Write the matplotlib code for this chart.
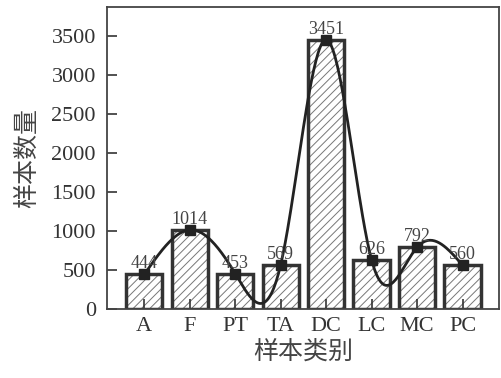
import numpy as np
import matplotlib
matplotlib.use("Agg")
import matplotlib.pyplot as plt

categories = ["A", "F", "PT", "TA", "DC", "LC", "MC", "PC"]
counts = [444, 1014, 453, 569, 3451, 626, 792, 560]


def natural_spline(y, n_per=40):
    # natural cubic spline on unit-spaced knots, used only to draw the smooth line
    y = np.asarray(y, dtype=float)
    n = len(y)
    A = np.zeros((n, n))
    b = np.zeros(n)
    A[0, 0] = A[-1, -1] = 1
    for i in range(1, n - 1):
        A[i, i - 1], A[i, i], A[i, i + 1] = 1, 4, 1
        b[i] = 6 * (y[i + 1] - 2 * y[i] + y[i - 1])
    M = np.linalg.solve(A, b)
    xs, ys = [], []
    for i in range(n - 1):
        t = np.linspace(0, 1, n_per, endpoint=(i == n - 2))
        s = (M[i] * (1 - t) ** 3 / 6 + M[i + 1] * t ** 3 / 6
             + (y[i] - M[i] / 6) * (1 - t) + (y[i + 1] - M[i + 1] / 6) * t)
        xs.append(i + t)
        ys.append(s)
    return np.concatenate(xs), np.concatenate(ys)


plt.rcParams['hatch.linewidth'] = 0.7
serif = "Liberation Serif"
cjk = ["Noto Sans CJK SC", "DejaVu Sans"]

fig = plt.figure(figsize=(5.01, 3.78), dpi=100)
ax = fig.add_axes([0.2136, 0.1825, 0.7824, 0.799])

x = np.arange(len(categories))
ax.bar(x, counts, width=0.8, color="white", edgecolor="#777777", hatch="////", linewidth=0)
ax.bar(x, counts, width=0.8, fill=False, edgecolor="#333333", linewidth=2.5)

sx, sy = natural_spline(counts)
ax.plot(sx, sy, color="#222222", linewidth=2)
ax.plot(x, counts, linestyle="none", marker="s", markersize=7, color="#222222")

for xi, c in zip(x, counts):
    ax.text(xi, c + 25, str(c), ha="center", va="bottom", fontsize=13,
            family=serif, color="#444444")

ax.set_xlim(-0.82, 7.8)
ax.set_ylim(0, 3870)
ax.set_yticks(range(0, 3501, 500))
ax.set_xticks(x)
ax.set_xticklabels(categories)
for lab in ax.get_xticklabels() + ax.get_yticklabels():
    lab.set_family(serif)
    lab.set_fontsize(16)
    lab.set_color("#333333")
ax.tick_params(direction="in", length=7, width=1.2, color="#333333", top=False, right=False)
ax.tick_params(axis="y", pad=8)
ax.tick_params(axis="x", pad=6)
for sp in ax.spines.values():
    sp.set_linewidth(1.3)
    sp.set_color("#444444")

ax.set_xlabel("样本类别", family=cjk, fontsize=18, color="#444444", labelpad=2)
ax.set_ylabel("样本数量", family=cjk, fontsize=18, color="#444444", labelpad=8)

fig.savefig("out.png", dpi=100)
